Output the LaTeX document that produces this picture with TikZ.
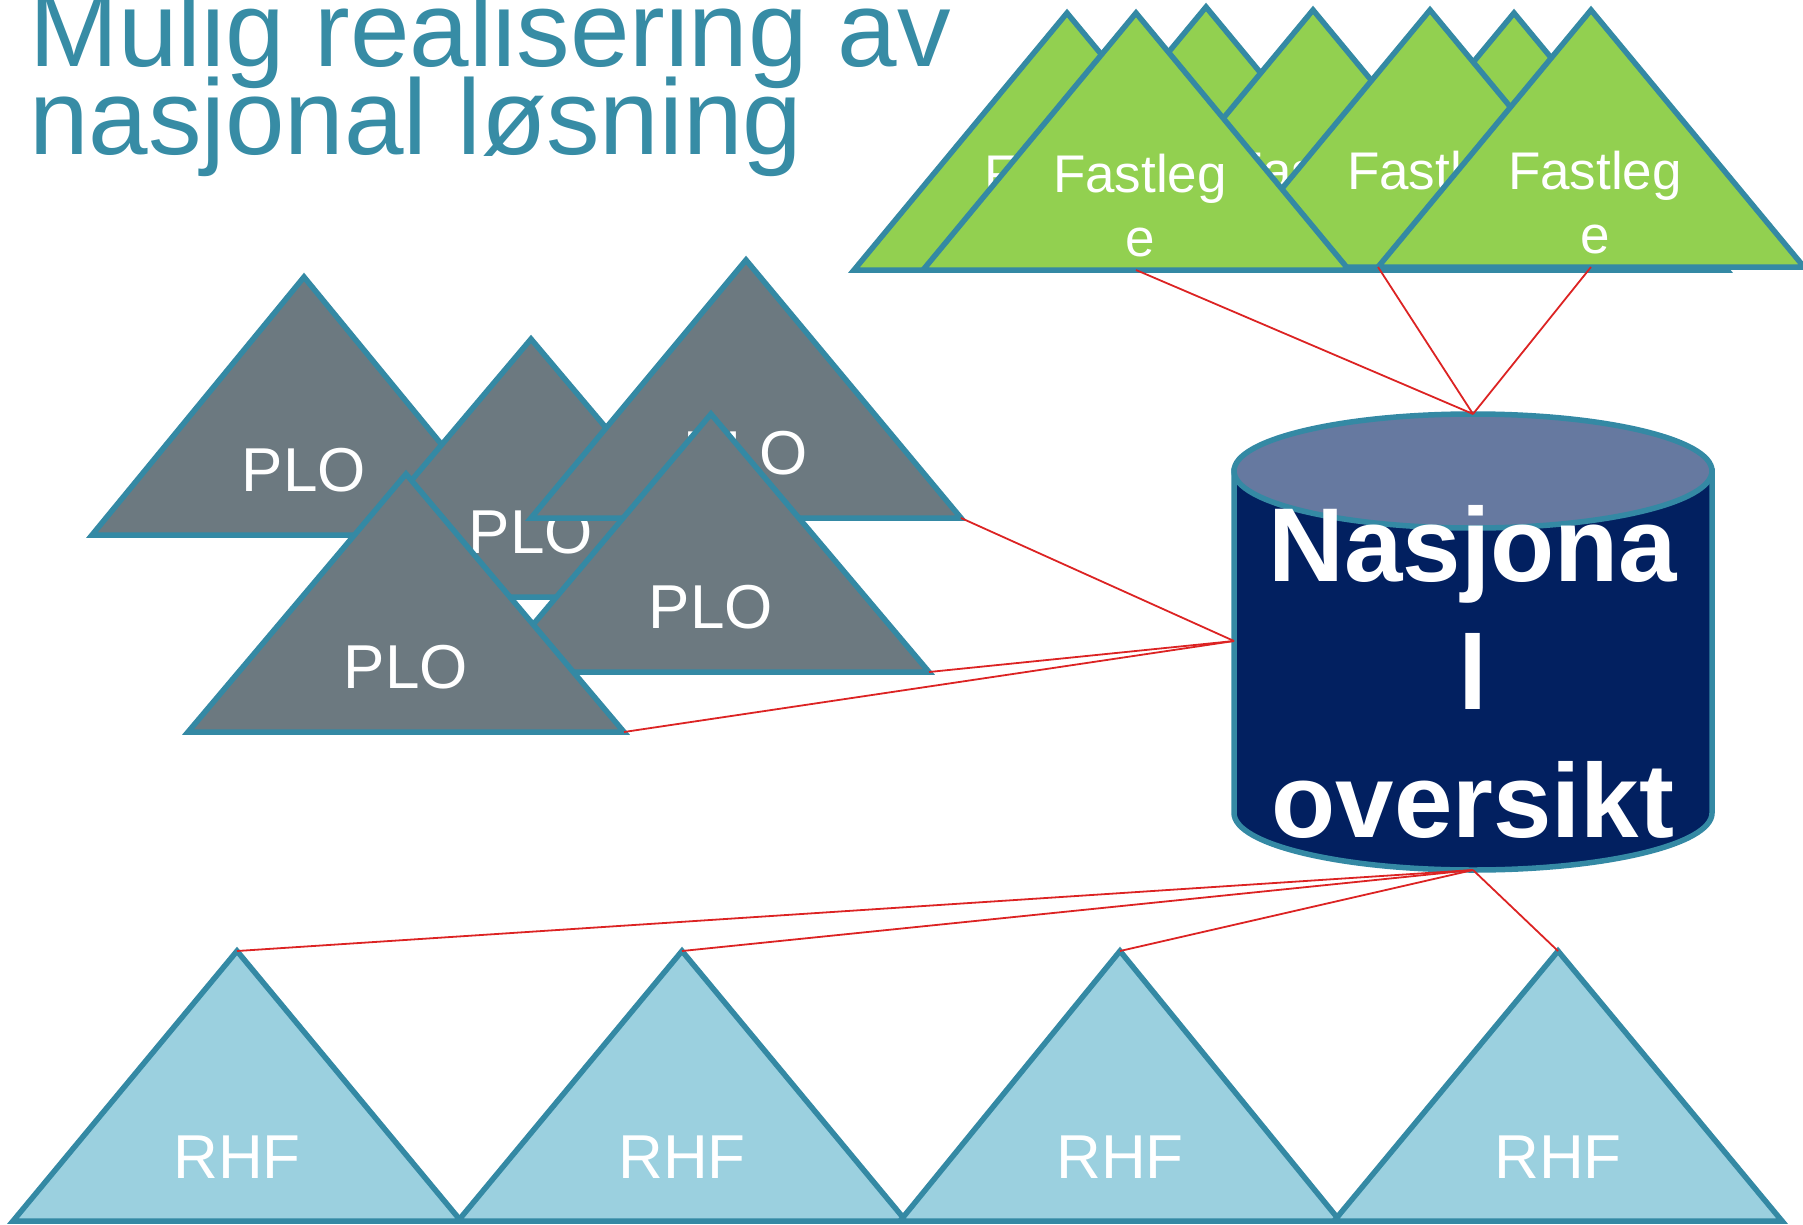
\documentclass[tikz,border=0pt]{standalone}
\usepackage{fontspec}
\setmainfont{Liberation Sans}
\definecolor{edge}{RGB}{52,137,164}
\definecolor{titleblue}{RGB}{55,140,165}
\definecolor{leaf}{RGB}{146,208,80}
\definecolor{plogray}{RGB}{108,121,128}
\definecolor{rhfblue}{RGB}{155,208,223}
\definecolor{navy}{RGB}{2,32,96}
\definecolor{lidblue}{RGB}{102,121,160}
\definecolor{link}{RGB}{220,35,35}
\tikzset{
  shapeline/.style={draw=edge, line width=5.5pt},
  tritext/.style={text=white, inner sep=0pt, align=center},
  fastfont/.style={font=\fontsize{53}{64}\selectfont, xshift=4pt},
  plofont/.style={font=\fontsize{62}{70}\selectfont},
  rhffont/.style={font=\fontsize{62}{70}\selectfont, yshift=-4pt},
  connector/.style={draw=link, line width=1.8pt},
}
% name, apex x, apex y, half width, height, fill, font style, text
\newcommand\mytri[8]{%
  \coordinate (#1-apex) at (#2,#3);
  \coordinate (#1-left) at ({#2-#4},{#3+#5});
  \coordinate (#1-right) at ({#2+#4},{#3+#5});
  \coordinate (#1-mid) at (#2,{#3+#5});
  \path[shapeline, fill=#6] (#1-apex) -- (#1-right) -- (#1-left) -- cycle;
  \node[tritext, #7] (#1) at (#2,{#3+0.75*#5}) {#8};
}
\begin{document}
\begin{tikzpicture}[x=1pt,y=-1pt]
\useasboundingbox (0,0) rectangle (1803,1225);
% title
\node[anchor=north west, inner sep=0pt, text=titleblue, align=left,
      font={\fontsize{107}{88}\selectfont\lineskiplimit=-200pt}] (title) at (29,-11)
      {Mulig realisering av\\nasjonal løsning};
% Fastlege triangles (back to front)
\mytri{fa}{1067}{13}{213}{257}{leaf}{fastfont}{Fastleg\\e}
\mytri{fc}{1206}{7}{213}{257}{leaf}{fastfont}{Fastleg\\e}
\mytri{fd}{1313}{10}{213}{257}{leaf}{fastfont}{Fastleg\\e}
\mytri{ff}{1514}{13}{213}{257}{leaf}{fastfont}{Fastleg\\e}
\mytri{fe}{1430}{10}{213}{257}{leaf}{fastfont}{Fastleg\\e}
\mytri{fb}{1136}{13}{213}{257}{leaf}{fastfont}{Fastleg\\e}
\mytri{fg}{1591}{10}{213}{257}{leaf}{fastfont}{Fastleg\\e}
% PLO triangles
\mytri{p1}{304}{277}{212}{258}{plogray}{plofont}{PLO}
\mytri{p2}{531}{339}{218}{258}{plogray}{plofont}{PLO}
\mytri{p3}{746}{260}{215}{258}{plogray}{plofont}{PLO}
\mytri{p4}{711}{414}{218}{258}{plogray}{plofont}{PLO}
\mytri{p5}{406}{474}{218}{258}{plogray}{plofont}{PLO}
% RHF triangles
\mytri{r1}{237}{951}{224}{270}{rhfblue}{rhffont}{RHF}
\mytri{r2}{682}{951}{224}{270}{rhfblue}{rhffont}{RHF}
\mytri{r3}{1120}{951}{220}{270}{rhfblue}{rhffont}{RHF}
\mytri{r4}{1558}{951}{224}{270}{rhfblue}{rhffont}{RHF}
% cylinder
\coordinate (cyl-top) at (1473,414);
\coordinate (cyl-west) at (1234,641);
\coordinate (cyl-bottom) at (1473,870);
\path[shapeline, fill=navy] (1234,471) -- (1234,813)
   arc[start angle=180, end angle=0, x radius=239, y radius=57] -- (1712,471) -- cycle;
\path[shapeline, fill=lidblue] (1473,471) ellipse [x radius=239, y radius=57];
\node[text=white, inner sep=0pt, align=center,
      font=\fontsize{105}{128}\selectfont\bfseries] (nasjonal) at (1473,672)
      {Nasjona\\l\\oversikt};
% connectors
\draw[connector] (fb-mid) -- (cyl-top);
\draw[connector] (fg-left) -- (cyl-top);
\draw[connector] (fg-mid) -- (cyl-top);
\draw[connector] (p3-right) -- (cyl-west);
\draw[connector] (p4-right) -- (cyl-west);
\draw[connector] (p5-right) -- (cyl-west);
\draw[connector] (cyl-bottom) -- (r1-apex);
\draw[connector] (cyl-bottom) -- (r2-apex);
\draw[connector] (cyl-bottom) -- (r3-apex);
\draw[connector] (cyl-bottom) -- (r4-apex);
\end{tikzpicture}
\end{document}
